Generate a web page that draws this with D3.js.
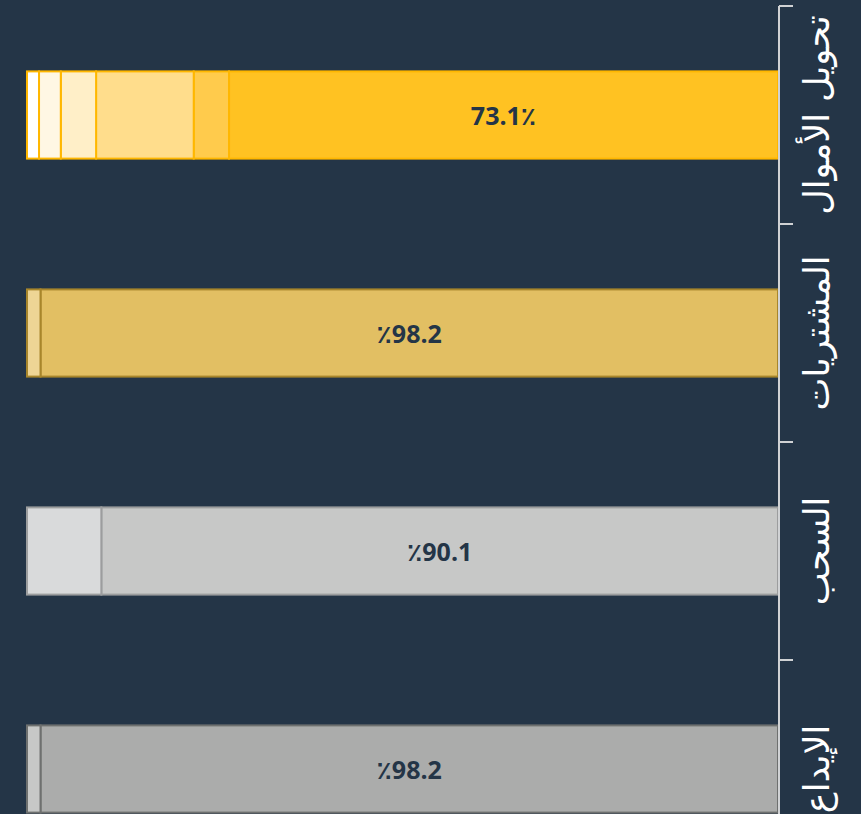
<!DOCTYPE html>
<html><head><meta charset="utf-8">
<script src="https://cdn.jsdelivr.net/npm/d3@7"></script>
<style>html,body{margin:0;padding:0;background:#243547;overflow:hidden;}</style>
</head><body>
<svg id="c" width="861" height="814"></svg>
<script>
const categories = ["تحويل الأموال", "المشتريات", "السحب", "الإيداع"];
const transferValues = [73.1, 4.7, 13.0, 4.7, 2.9, 1.6];
const purchaseValues = [98.2, 1.8];
const withdrawValues = [90.1, 9.9];
const depositValues = [98.2, 1.8];
const valueLabels = ["73.1٪", "٪98.2", "٪90.1", "٪98.2"];

const transferColors = ["#FFC222", "#FFCB4C", "#FFDD8C", "#FFEFC8", "#FFF7E4", "#FFFFFF"];
const purchaseColors = ["#E2BF63", "#EED595"];
const withdrawColors = ["#C7C8C7", "#D9DADB"];
const depositColors = ["#ABACAB", "#C7C8C7"];
const strokeColors = ["#FFB700", "#A8862B", "#9C9D9E", "#6E706F"];

const rows = [
  {cat: categories[0], values: transferValues, colors: transferColors, stroke: strokeColors[0], label: valueLabels[0]},
  {cat: categories[1], values: purchaseValues, colors: purchaseColors, stroke: strokeColors[1], label: valueLabels[1]},
  {cat: categories[2], values: withdrawValues, colors: withdrawColors, stroke: strokeColors[2], label: valueLabels[2]},
  {cat: categories[3], values: depositValues, colors: depositColors, stroke: strokeColors[3], label: valueLabels[3]}
];

const svg = d3.select("#c");
const x = d3.scaleLinear().domain([0, 100]).range([778, 27]);
const y = d3.scaleBand().domain(categories).range([6, 878]).paddingInner(0.6).paddingOuter(0.3);

rows.forEach(r => {
  let acc = 0;
  const segs = r.values.map((v, i) => { const s = {x0: acc, x1: acc + v, color: r.colors[i]}; acc += v; return s; });
  const g = svg.append("g");
  g.selectAll("rect").data(segs).join("rect")
    .attr("x", d => x(d.x1)).attr("width", d => x(d.x0) - x(d.x1))
    .attr("y", y(r.cat)).attr("height", y.bandwidth())
    .attr("fill", d => d.color).attr("stroke", r.stroke).attr("stroke-width", 2);
  g.append("text")
    .attr("x", (x(segs[0].x0) + x(segs[0].x1)) / 2)
    .attr("y", y(r.cat) + y.bandwidth() / 2)
    .attr("text-anchor", "middle").attr("dominant-baseline", "central")
    .attr("direction", "ltr")
    .attr("font-family", "'Open Sans', 'DejaVu Sans', sans-serif").attr("font-weight", 700)
    .attr("font-size", 25).attr("letter-spacing", 2).attr("fill", "#243547")
    .text(r.label);
});

// right axis with ticks at band boundaries
const axisX = 779;
const ax = svg.append("g");
ax.append("line").attr("x1", axisX).attr("x2", axisX).attr("y1", y.range()[0]).attr("y2", y.range()[1])
  .attr("stroke", "#D0D2D4").attr("stroke-width", 2);
const bounds = categories.map(c => y(c) - y.step() * y.paddingInner() / 2);
ax.selectAll("line.t").data(bounds).join("line").attr("class", "t")
  .attr("x1", axisX).attr("x2", axisX + 14).attr("y1", d => d).attr("y2", d => d)
  .attr("stroke", "#D0D2D4").attr("stroke-width", 2);
ax.selectAll("text").data(categories).join("text")
  .attr("transform", d => `translate(829,${y(d) + y.bandwidth() / 2}) rotate(-90)`)
  .attr("text-anchor", "middle")
  .attr("direction", "rtl")
  .attr("font-family", "'DejaVu Sans', sans-serif")
  .attr("font-size", 35).attr("fill", "#FFFFFF")
  .text(d => d);
</script>
</body></html>
